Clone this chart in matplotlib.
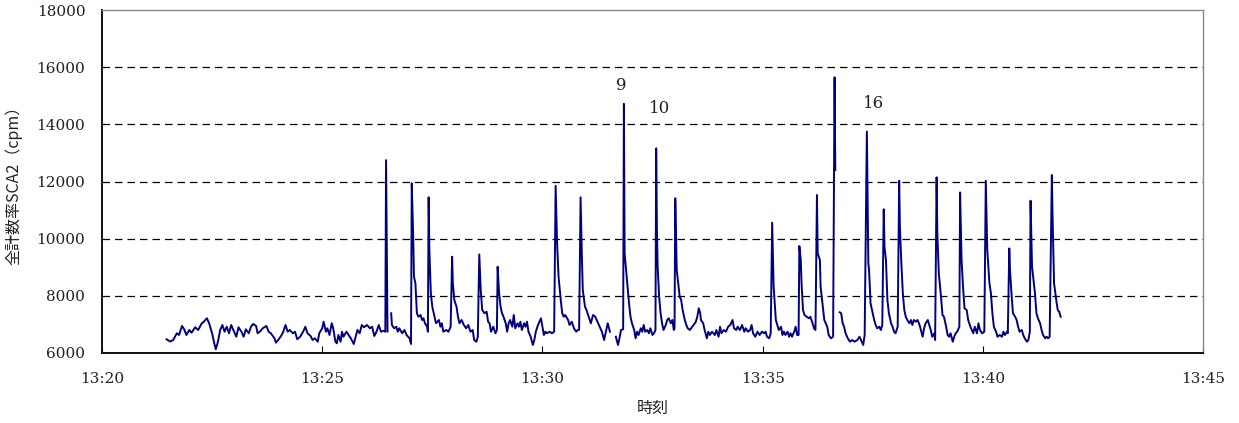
import numpy as np
import matplotlib
matplotlib.use("Agg")
import matplotlib.pyplot as plt

# 13:20:00 からの経過秒と全計数率 (cpm)。None は欠測
t_sec = [
    88, 93, 97, 102, 105, 109, 112, 115, 119, 122, 127, 131, 136, 138, 143, 146, 150, 153, 155, 158,
    161, 164, 167, 170, 173, 176, 179, 183, 186, 190, 193, 196, 200, 203, 206, 210, 212, 215, 219, 224,
    227, 230, 235, 237, 240, 244, 247, 250, 253, 256, 260, 263, 266, 270, 274, 277, 280, 284, 287, 290,
    294, 296, 300, 302, 305, 307, 310, 313, 315, 318, 320, 322, 325, 327, 329, 333, 336, 339, 343, 345,
    348, 351, 354, 357, 361, 365, 368, 371, 374, 377, 380, 384, 386, 387, 389, 391,
    394, 395, 398, 401, 403, 405, 409, 412, 415, 419, 421, 422, 424, 425, 427, 429, 431, 434, 436, 438,
    440, 443, 444, 445, 446, 448, 450, 453, 455, 459, 461, 463, 465, 469, 472, 475, 477, 478, 480, 483,
    485, 487, 490, 493, 496, 499, 502, 505, 507, 510, 512, 514, 516, 518, 521, 524, 526, 528, 530, 533,
    536, 538, 539, 541, 543, 545, 547, 550, 552, 554, 556, 559, 561, 563, 566, 568, 570, 572, 575, 577,
    579, 581, 584, 587, 589, 591, 594, 596, 598, 600, 602, 604, 606, 610, 613, 616, 618, 620, 622, 625,
    627, 629, 631, 635, 637, 640, 643, 646, 648, 650, 652, 654, 655, 658, 660, 663, 666, 669, 672, 675,
    678, 681, 684, 686, 689, 692, 696,
    700, 703, 705, 707, 710, 711, 712, 714, 716, 718, 720, 722, 725, 727, 729, 731, 734, 736, 738, 740,
    743, 745, 747, 750, 752, 754, 755, 756, 757, 759, 761, 763, 765, 768, 770, 772, 775, 777, 779, 780,
    781, 783, 785, 787, 789, 791, 794, 796, 798, 801, 804, 806, 809, 811, 813, 815, 816, 819, 821, 824,
    826, 828, 831, 835, 837, 840, 842, 844, 847, 850, 853, 856, 859, 861, 864, 866, 869, 872, 875, 877,
    880, 883, 885, 887, 890, 893, 896, 899, 902, 904, 906, 909, 911, 913, 915, 918, 920, 922, 925, 927,
    929, 931, 934, 936, 938, 940, 943, 945, 947, 949, 950, 952, 953, 955, 957, 960, 963, 965, 968, 970,
    972, 974, 975, 978, 979, 981, 984, 986, 988, 990, 993, 996, 998, 999, 1002,
    1005, 1007, 1009, 1011, 1013, 1016, 1019, 1022, 1025, 1029, 1032, 1035, 1037, 1039, 1042, 1044, 1045, 1047, 1050, 1052,
    1054, 1056, 1059, 1061, 1063, 1065, 1066, 1068, 1070, 1072, 1075, 1077, 1079, 1081, 1084, 1086, 1087, 1089, 1091, 1093,
    1095, 1097, 1100, 1102, 1104, 1106, 1109, 1111, 1113, 1115, 1118, 1120, 1122, 1125, 1127, 1129, 1131, 1134, 1135, 1137,
    1138, 1140, 1143, 1145, 1147, 1150, 1152, 1154, 1156, 1159, 1161, 1163, 1165, 1168, 1169, 1171, 1173, 1175, 1178, 1180,
    1183, 1185, 1187, 1189, 1192, 1194, 1196, 1199, 1202, 1204, 1206, 1209, 1211, 1213, 1215, 1218, 1220, 1223, 1226, 1228,
    1230, 1233, 1234, 1236, 1237, 1239, 1241, 1244, 1246, 1248, 1250, 1253, 1255, 1257, 1260, 1262, 1264, 1265, 1267, 1269,
    1271, 1273, 1275, 1278, 1280, 1282, 1285, 1287, 1289, 1291, 1294, 1295, 1297, 1300, 1302, 1304, 1306,
]
cpm = [
    6480, 6400, 6455, 6690, 6630, 6945, 6830, 6630, 6805, 6710, 6900, 6805, 7040, 7075, 7215, 7040, 6690, 6340, 6130, 6395,
    6805, 6980, 6745, 6920, 6690, 6980, 6805, 6570, 6900, 6745, 6570, 6830, 6690, 6920, 7015, 6945, 6690, 6745, 6865, 6945,
    6745, 6690, 6515, 6360, 6455, 6595, 6745, 6980, 6745, 6805, 6690, 6745, 6480, 6570, 6745, 6920, 6690, 6600, 6455, 6515,
    6395, 6690, 6865, 7095, 6745, 6865, 6630, 7040, 6865, 6395, 6340, 6630, 6395, 6745, 6570, 6745, 6630, 6515, 6315, 6515,
    6805, 6690, 6980, 6900, 6980, 6865, 6920, 6595, 6745, 6980, 6745, 6780, 6745, 12750, 6750, None,
    7390, 6980, 6865, 6920, 6745, 6865, 6690, 6805, 6630, 6515, 6315, 11940, 10070, 8670, 8440, 7390, 7270, 7330, 7155, 7215,
    7040, 6920, 6745, 11450, 9605, 8090, 7620, 7270, 7040, 7155, 6920, 7040, 6745, 6805, 6745, 6920, 9370, 8440, 7855, 7620,
    7270, 7040, 7155, 6980, 6865, 6980, 6745, 6805, 6455, 6395, 6570, 9450, 8205, 7505, 7390, 7445, 7095, 7040, 6745, 6920,
    6690, 6805, 9020, 8090, 7620, 7390, 7270, 7040, 6745, 7040, 7155, 6920, 7330, 6865, 7040, 6920, 7095, 6805, 7040, 6920,
    7095, 6745, 6570, 6280, 6455, 6745, 6980, 7095, 7215, 6920, 6630, 6745, 6690, 6745, 6690, 6745, 11850, 9840, 8670, 7855,
    7390, 7270, 7330, 7155, 6980, 7095, 6865, 6745, 6805, 6805, 11450, 9140, 8205, 7620, 7505, 7270, 7040, 7330, 7270, 7095,
    6920, 6745, 6455, 6690, 7040, 6745, None,
    6570, 6280, 6515, 6805, 6830, 14720, 9490, 8905, 8320, 7740, 7270, 7040, 6805, 6515, 6745, 6630, 6865, 6745, 6980, 6745,
    6805, 6690, 6865, 6630, 6690, 6805, 13165, 10305, 9020, 7970, 7390, 7040, 6805, 6980, 7155, 7215, 7040, 7155, 6805, 6865,
    11415, 8905, 8440, 7970, 7855, 7505, 7155, 6980, 6865, 6805, 6920, 6980, 7095, 7270, 7565, 7390, 7155, 7040, 6805, 6515,
    6745, 6630, 6745, 6630, 6805, 6570, 6920, 6690, 6805, 6745, 6920, 6980, 7155, 6865, 6805, 6920, 6805, 6980, 6745, 6865,
    6745, 6805, 6980, 6690, 6570, 6745, 6630, 6745, 6690, 6745, 6570, 6515, 6690, 10560, 8320, 7155, 6980, 6805, 6920, 6630,
    6745, 6630, 6745, 6570, 6690, 6570, 6745, 6920, 6630, 6630, 9745, 9255, 8440, 7505, 7330, 7270, 7215, 7270, 7040, 6865,
    6805, 11530, 9490, 9255, 8320, 7855, 7155, 7040, 6920, 6630, 6515, 6570, 15650, 12400, None,
    7425, 7390, 7040, 6920, 6690, 6515, 6395, 6455, 6395, 6455, 6570, 6395, 6280, 6630, 13750, 9140, 8905, 7740, 7390, 7155,
    6980, 6865, 6920, 6805, 6980, 11030, 9720, 9255, 7855, 7390, 7040, 6920, 6745, 6690, 6920, 12030, 10420, 9140, 8090, 7505,
    7270, 7155, 7040, 7155, 6980, 7155, 7095, 7155, 7040, 6865, 6570, 6865, 7040, 7155, 6980, 6805, 6570, 6690, 6455, 12150,
    10190, 8790, 7970, 7330, 7270, 6920, 6630, 6570, 6690, 6395, 6570, 6690, 6745, 6920, 11620, 9255, 8320, 7565, 7505, 7155,
    6920, 6805, 6690, 6920, 6690, 7040, 6805, 6690, 6745, 12030, 9605, 8440, 8090, 7390, 6920, 6745, 6570, 6630, 6570, 6745,
    6630, 6745, 6690, 9660, 8905, 8090, 7390, 7270, 7155, 6920, 6745, 6805, 6630, 6515, 6395, 6455, 6745, 11330, 9020, 8555,
    8090, 7390, 7215, 7040, 6805, 6630, 6515, 6570, 6515, 6570, 12230, 10770, 8440, 7855, 7505, 7445, 7270,
]

x_ticks = [0, 300, 600, 900, 1200, 1500]
x_ticklabels = ["13:20", "13:25", "13:30", "13:35", "13:40", "13:45"]
y_ticks = [6000, 8000, 10000, 12000, 14000, 16000, 18000]

# ピーク番号ラベル
peak_labels = ["9", "10", "16"]
peak_label_t = [708, 760, 1051]
peak_label_y = [15350, 14550, 14750]

y = np.array([np.nan if v is None else v for v in cpm], dtype=float)
t = np.array(t_sec, dtype=float)

fig = plt.figure(figsize=(12.39, 4.23), dpi=100)
ax = fig.add_axes([0.0823, 0.1655, 0.8887, 0.8105])

ax.plot(t, y, color="#000080", lw=1.4)

ax.set_xlim(0, 1500)
ax.set_ylim(6000, 18000)
ax.set_xticks(x_ticks)
ax.set_xticklabels(x_ticklabels)
ax.set_yticks(y_ticks)

for v in y_ticks[1:-1]:
    ax.axhline(v, color="black", lw=0.9, dashes=(6, 4), zorder=0)

for lab in ax.get_xticklabels() + ax.get_yticklabels():
    lab.set_fontfamily("DejaVu Serif")
    lab.set_fontsize(11)
    lab.set_color("#222222")
ax.tick_params(axis="x", direction="in", length=5, pad=14)
ax.tick_params(axis="y", direction="in", length=0, pad=12)

for s in ["top", "right"]:
    ax.spines[s].set_color("#888888")
    ax.spines[s].set_linewidth(1.0)
for s in ["left", "bottom"]:
    ax.spines[s].set_color("#111111")
    ax.spines[s].set_linewidth(1.4)

for lab, tx, ty in zip(peak_labels, peak_label_t, peak_label_y):
    ax.text(tx, ty, lab, fontsize=12, family="DejaVu Serif", color="#222222",
            ha="center", va="center")

jp = ["Noto Sans CJK JP", "DejaVu Sans"]
ax.set_ylabel("全計数率SCA2（cpm）", family=jp, fontsize=11.5, color="#222222", labelpad=10)
ax.set_xlabel("時刻", family=jp, fontsize=11.5, color="#222222", labelpad=10)

fig.savefig("out.png", dpi=100)
